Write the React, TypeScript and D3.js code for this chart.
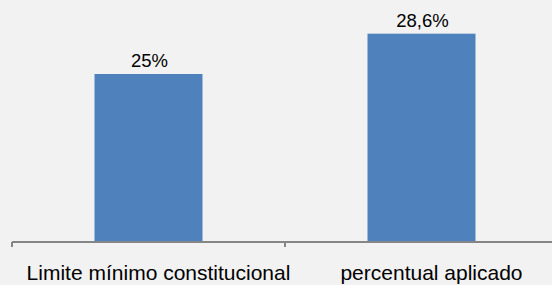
import React, { useEffect, useRef } from 'react';
import * as d3 from 'd3';

const CATEGORIES = ['Limite mínimo constitucional', 'percentual aplicado'];
const VALUES = [25, 28.6];
const VALUE_LABELS = ['25%', '28,6%'];

const W = 552;
const H = 285;

const App = () => {
  const ref = useRef<SVGSVGElement>(null);

  useEffect(() => {
    document.body.style.margin = '0';
    const svg = d3.select(ref.current);
    svg.selectAll('*').remove();

    const x = d3.scaleBand<string>().domain(CATEGORIES).range([12, 558]).paddingInner(0).paddingOuter(0);
    const y = d3.scaleLinear().domain([10, 30]).range([242, 18]);
    const barW = 108;

    svg.append('rect').attr('width', W).attr('height', H).attr('fill', '#f2f2f2');

    svg
      .selectAll('rect.bar')
      .data(VALUES)
      .enter()
      .append('rect')
      .attr('class', 'bar')
      .attr('x', (d, i) => x(CATEGORIES[i])! + x.bandwidth() / 2 - barW / 2)
      .attr('y', d => y(d))
      .attr('width', barW)
      .attr('height', d => y(10) - y(d))
      .attr('fill', '#4f81bd');

    // eixo x
    const axis = svg.append('g').attr('stroke', '#868686').attr('stroke-width', 2);
    axis.append('line').attr('x1', 12).attr('x2', 558).attr('y1', 242).attr('y2', 242);
    [12, 12 + x.bandwidth(), 558].forEach(t => {
      axis.append('line').attr('x1', t).attr('x2', t).attr('y1', 242).attr('y2', 247);
    });

    svg
      .selectAll('text.value')
      .data(VALUES)
      .enter()
      .append('text')
      .attr('class', 'value')
      .attr('x', (d, i) => x(CATEGORIES[i])! + x.bandwidth() / 2 + 1)
      .attr('y', d => y(d) - 7)
      .attr('text-anchor', 'middle')
      .attr('font-family', 'Liberation Sans, Arial, sans-serif')
      .attr('font-size', 18.5)
      .attr('fill', '#000')
      .text((d, i) => VALUE_LABELS[i]);

    svg
      .selectAll('text.cat')
      .data(CATEGORIES)
      .enter()
      .append('text')
      .attr('class', 'cat')
      .attr('x', d => x(d)! + x.bandwidth() / 2 + 10)
      .attr('y', 280)
      .attr('text-anchor', 'middle')
      .attr('font-family', 'Liberation Sans, Arial, sans-serif')
      .attr('font-size', 21)
      .attr('fill', '#000')
      .text(d => d);
  }, []);

  return <svg ref={ref} width={W} height={H} style={{ display: 'block' }} />;
};

export default App;
